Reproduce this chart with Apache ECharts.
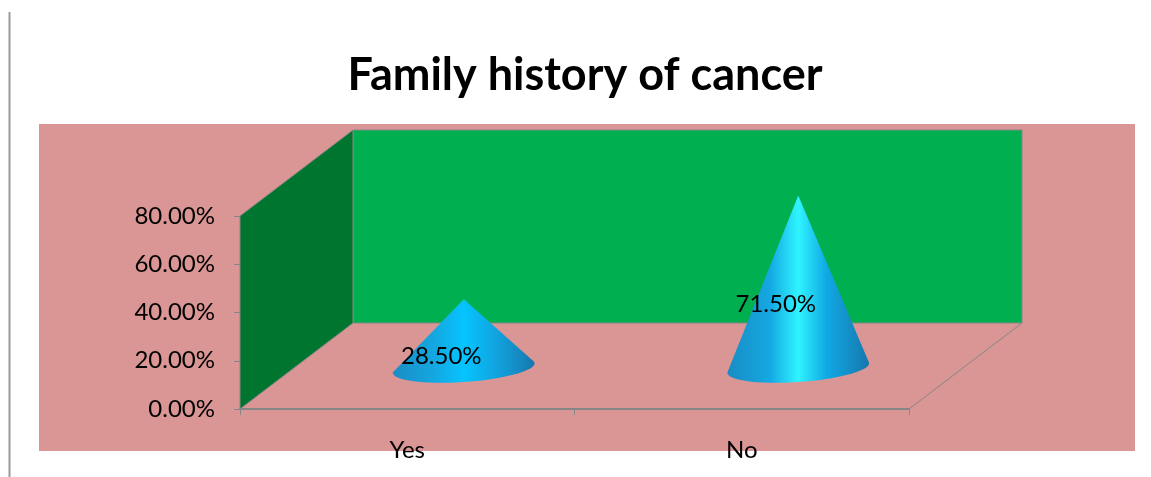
<!DOCTYPE html>
<html>
<head>
<meta charset="utf-8">
<style>
  html, body { margin: 0; padding: 0; background: #fff; }
  #chart { width: 1151px; height: 477px; }
</style>
<script src="https://cdn.jsdelivr.net/npm/echarts@6/dist/echarts.min.js"></script>
</head>
<body>
<div id="chart"></div>
<script>
const categories = ['Yes', 'No'];
const values = [0.285, 0.715];
const titleText = 'Family history of cancer';

const FONT = 'Lato, "Noto Sans", sans-serif';
const DEPTH_X = 113;
const DEPTH_Y = -86;
const AXIS_GRAY = '#868686';

const chart = echarts.init(document.getElementById('chart'), null, { renderer: 'canvas' });

const pct = v => (v * 100).toFixed(2) + '%';

// back wall, side wall and the floor edge, hung off the grid rect
function renderWalls(params, api) {
  const g = params.coordSys;
  const l = g.x, r = g.x + g.width, t = g.y, b = g.y + g.height;
  const wallStroke = { stroke: AXIS_GRAY, lineWidth: 1 };
  return {
    type: 'group',
    children: [
      {
        type: 'polygon',
        shape: { points: [[l + DEPTH_X, t + DEPTH_Y], [r + DEPTH_X, t + DEPTH_Y], [r + DEPTH_X, b + DEPTH_Y], [l + DEPTH_X, b + DEPTH_Y]] },
        style: { fill: '#00b050', ...wallStroke }
      },
      {
        type: 'polygon',
        shape: { points: [[l, t], [l + DEPTH_X, t + DEPTH_Y], [l + DEPTH_X, b + DEPTH_Y], [l, b]] },
        style: { fill: '#00752f', ...wallStroke }
      },
      {
        type: 'line',
        shape: { x1: r, y1: b, x2: r + DEPTH_X, y2: b + DEPTH_Y },
        style: wallStroke
      }
    ]
  };
}

// cone standing halfway back on the floor
function renderCone(params, api) {
  const i = api.value(0), v = api.value(1);
  const base = api.coord([i, 0]);
  const top = api.coord([i, v]);
  const mid = api.coord([i, v / 2]);
  const cx = base[0] + DEPTH_X / 2;
  const cy = base[1] + DEPTH_Y / 2 + 2;
  const tipY = top[1] + DEPTH_Y / 2 + 2;
  const rx = 71, ry = 14, tilt = -4 * Math.PI / 180;

  const pts = [[cx, tipY]];
  for (let a = -0.1; a <= Math.PI + 0.1; a += 0.1) {
    const ex = rx * Math.cos(a), ey = ry * Math.sin(a);
    pts.push([
      cx + ex * Math.cos(tilt) - ey * Math.sin(tilt),
      cy + ex * Math.sin(tilt) + ey * Math.cos(tilt)
    ]);
  }
  const bright = v > 0.5 ? '#2ff4ff' : '#05c4ff';
  const fill = new echarts.graphic.LinearGradient(0, 0, 1, 0, [
    { offset: 0, color: '#1a8cc4' },
    { offset: 0.3, color: '#14a8e2' },
    { offset: 0.5, color: bright },
    { offset: 0.7, color: '#10a8e4' },
    { offset: 0.9, color: '#1688c0' },
    { offset: 1, color: '#1576ae' }
  ]);
  return {
    type: 'group',
    children: [
      { type: 'polygon', shape: { points: pts }, style: { fill: fill } },
      {
        type: 'text',
        z2: 10,
        style: {
          x: mid[0] + 34, y: mid[1] - 18,
          text: pct(v),
          fill: '#000',
          font: '24px ' + FONT,
          align: 'center', verticalAlign: 'middle'
        }
      }
    ]
  };
}

chart.setOption({
  animation: false,
  backgroundColor: '#fff',
  title: {
    text: titleText,
    left: 580, top: 48,
    textAlign: 'center',
    textStyle: { fontFamily: FONT, fontSize: 45, fontWeight: 'bold', color: '#000' }
  },
  graphic: [
    { type: 'rect', z: -10, shape: { x: 39, y: 124, width: 1096, height: 327 }, style: { fill: '#d99694' } },
    { type: 'line', z: -10, shape: { x1: 9.5, y1: 12, x2: 9.5, y2: 477 }, style: { stroke: '#999999', lineWidth: 2 } }
  ],
  grid: { left: 240, right: 242, top: 216, bottom: 68 },
  xAxis: {
    type: 'category',
    data: categories,
    axisLine: { lineStyle: { color: AXIS_GRAY, width: 2 } },
    axisTick: { show: true, alignWithLabel: false, length: 6, lineStyle: { color: AXIS_GRAY } },
    axisLabel: { fontFamily: FONT, fontSize: 24, color: '#000', margin: 29 }
  },
  yAxis: {
    type: 'value',
    min: 0, max: 0.8, interval: 0.2,
    axisLine: { show: false },
    axisTick: { show: true, length: 6, lineStyle: { color: AXIS_GRAY } },
    splitLine: { show: false },
    axisLabel: { fontFamily: FONT, fontSize: 24, color: '#000', margin: 25, padding: [2, 0, 0, 0], formatter: pct }
  },
  series: [
    {
      type: 'custom',
      z: 1,
      clip: false,
      silent: true,
      renderItem: renderWalls,
      data: [[0, 0]]
    },
    {
      type: 'custom',
      z: 3,
      clip: false,
      silent: true,
      renderItem: renderCone,
      encode: { x: 0, y: 1 },
      data: values.map((v, i) => [i, v])
    }
  ]
});
</script>
</body>
</html>
